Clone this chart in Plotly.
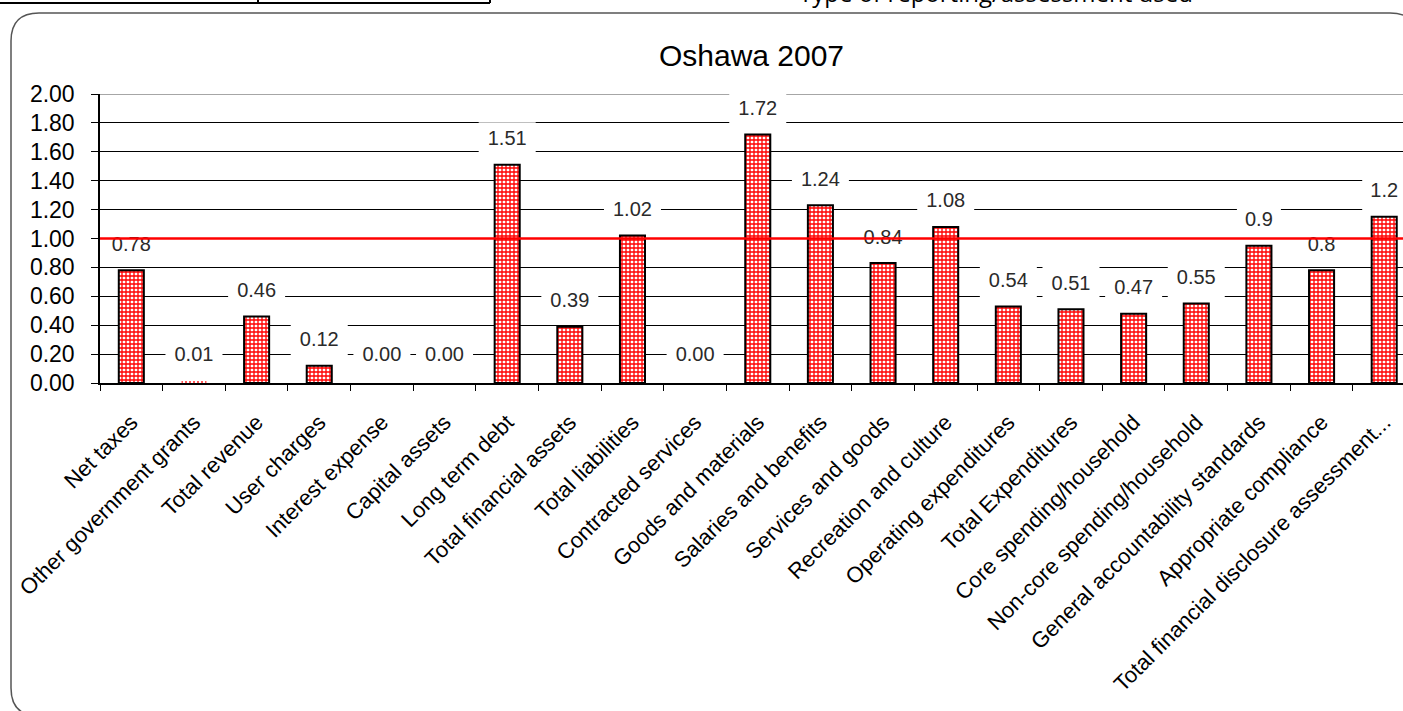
import plotly.graph_objects as go

categories = ["Net taxes", "Other government grants", "Total revenue", "User charges",
              "Interest expense", "Capital assets", "Long term debt", "Total financial assets",
              "Total liabilities", "Contracted services", "Goods and materials",
              "Salaries and benefits", "Services and goods", "Recreation and culture",
              "Operating expenditures", "Total Expenditures", "Core spending/household",
              "Non-core spending/household", "General accountability standards",
              "Appropriate compliance", "Total financial disclosure assessment..."]
values = [0.78, 0.01, 0.46, 0.12, 0.00, 0.00, 1.51, 0.39, 1.02, 0.00, 1.72,
          1.23, 0.83, 1.08, 0.53, 0.51, 0.48, 0.55, 0.95, 0.78, 1.15]
value_labels = ["0.78", "0.01", "0.46", "0.12", "0.00", "0.00", "1.51", "0.39", "1.02", "0.00",
                "1.72", "1.24", "0.84", "1.08", "0.54", "0.51", "0.47", "0.55", "0.9", "0.8", "1.2"]
benchmark = 1.0
title_text = "Oshawa 2007"
y_ticks = [0.0, 0.2, 0.4, 0.6, 0.8, 1.0, 1.2, 1.4, 1.6, 1.8, 2.0]

W, H = 1403, 711
L, R, T, B = 100, 0, 94, 328
PW, PH = W - L - R, H - T - B
FONT = "Liberation Sans, Arial, sans-serif"


def px(x):
    return (x - L) / PW


def py(y):
    return (H - B - y) / PH


label_offset = 0.17
label_y = [max(v, 0.02) + label_offset for v in values]
cat_px = PW / 20.8  # pixels per category
outline_w = [2 if v >= 0.02 else 0 for v in values]

fig = go.Figure()
fig.add_trace(go.Bar(
    x=categories, y=values, width=0.4,
    marker=dict(color="white", line=dict(color="black", width=outline_w),
                pattern=dict(shape="+", fgcolor="#ff0000", bgcolor="white",
                             size=4, solidity=0.55, fillmode="replace")),
    hoverinfo="skip", showlegend=False,
))
fig.add_trace(go.Scatter(
    x=categories, y=label_y, mode="text", text=value_labels,
    textfont=dict(family=FONT, size=20, color="#2a2a2a"),
    textposition="middle center", hoverinfo="skip", showlegend=False,
))

shapes = []
# white boxes behind value labels (hide gridlines)
for c, ly, t in zip(range(len(categories)), label_y, value_labels):
    wpx = 13 * len(t) + 5
    hw = wpx / 2 / cat_px
    hh = 18 / (PH / 2.0)
    shapes.append(dict(type="rect", xref="x", yref="y", x0=c - hw, x1=c + hw,
                       y0=ly - hh, y1=ly + hh, fillcolor="white",
                       line=dict(width=0), layer="between"))
# top border of plot area
shapes.append(dict(type="line", xref="paper", yref="y", x0=0, x1=1, y0=2.0, y1=2.0,
                   line=dict(color="#888888", width=1.5), layer="below"))
# benchmark line
shapes.append(dict(type="line", xref="paper", yref="y", x0=0, x1=1,
                   y0=benchmark, y1=benchmark,
                   line=dict(color="#ff0000", width=2.5), layer="above"))
# rounded frame
fl, ft, fr, fb, rr = 11, 13, 1418, 716, 28
path = (f"M {px(fl)},{py(fb - rr)} L {px(fl)},{py(ft + rr)} "
        f"Q {px(fl)},{py(ft)} {px(fl + rr)},{py(ft)} "
        f"L {px(fr - rr)},{py(ft)} Q {px(fr)},{py(ft)} {px(fr)},{py(ft + rr)} "
        f"L {px(fr)},{py(fb - rr)} Q {px(fr)},{py(fb)} {px(fr - rr)},{py(fb)} "
        f"L {px(fl + rr)},{py(fb)} Q {px(fl)},{py(fb)} {px(fl)},{py(fb - rr)} Z")
shapes.append(dict(type="path", xref="paper", yref="paper", path=path,
                   line=dict(color="#555555", width=1.5), layer="below"))
# top-left cut-off table border
for (x0, y0, x1, y1) in [(0, 3, 490, 3), (258, 0, 258, 3), (490, 0, 490, 3)]:
    shapes.append(dict(type="line", xref="paper", yref="paper",
                       x0=px(x0), y0=py(y0), x1=px(x1), y1=py(y1),
                       line=dict(color="black", width=2)))

fig.update_layout(
    width=W, height=H,
    margin=dict(l=L, r=R, t=T, b=B),
    paper_bgcolor="white", plot_bgcolor="rgba(0,0,0,0)",
    font=dict(family=FONT, color="black"),
    title=dict(text=title_text, font=dict(family=FONT, size=30, color="black"),
               xref="paper", x=0.5, xanchor="center",
               yref="container", y=1 - 55 / H, yanchor="middle"),
    shapes=shapes,
    bargap=0.6,
    annotations=[dict(text="Type of reporting/assessment used", xref="paper", yref="paper",
                      x=px(996), y=py(10), xanchor="center", yanchor="bottom",
                      showarrow=False, borderpad=0,
                      font=dict(family="Open Sans, sans-serif", size=24, color="black"))],
)
fig.update_xaxes(
    range=[-0.5, 20.3], showgrid=False, showline=True, linecolor="black", linewidth=1.5,
    ticks="outside", tickson="boundaries", ticklen=6, tickcolor="black",
    tickangle=-45, tickfont=dict(family=FONT, size=22, color="black"),
    ticklabelstandoff=16, fixedrange=True,
)
fig.update_yaxes(
    range=[0, 2.0], tickvals=y_ticks, tickformat=".2f",
    showgrid=True, gridcolor="black", gridwidth=1,
    showline=True, linecolor="black", linewidth=1.5,
    ticks="outside", ticklen=7, tickcolor="black",
    tickfont=dict(family=FONT, size=23, color="black"),
    ticklabelstandoff=12, zeroline=False, fixedrange=True,
)

fig.write_html("out.html", config={"displayModeBar": False},
               post_script="document.body.style.margin='0';document.body.style.overflow='hidden';")
